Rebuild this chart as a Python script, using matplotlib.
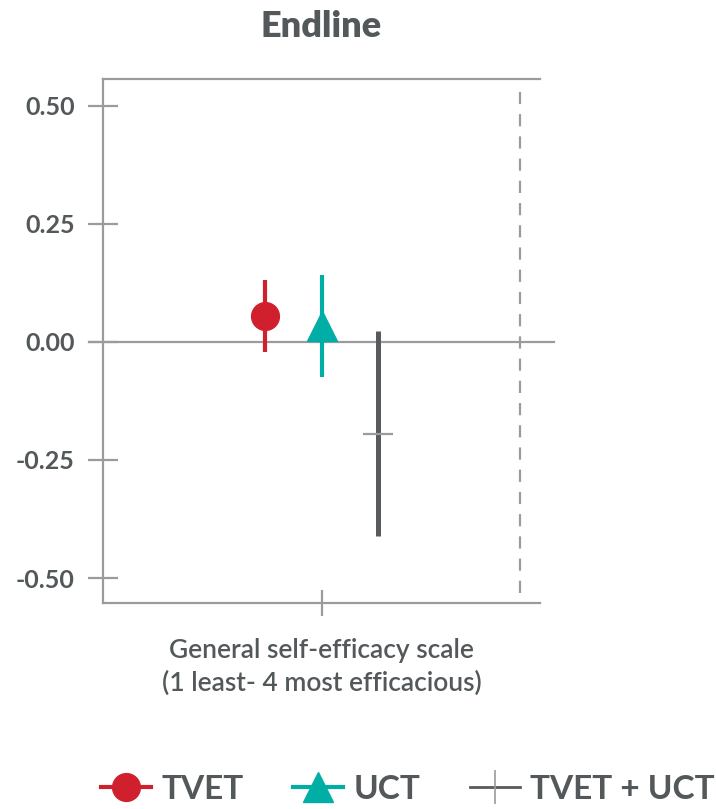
import matplotlib
matplotlib.use("Agg")
import matplotlib.pyplot as plt
from matplotlib.lines import Line2D

plt.rcParams['font.family'] = ['Lato', 'DejaVu Sans']

# point estimates and 95% intervals, endline
groups = ["TVET", "UCT", "TVET + UCT"]
estimates = [0.055, 0.034, -0.194]
ci_half = [0.076, 0.108, 0.217]
offsets = [-0.2, 0.0, 0.2]
outcome = "General self-efficacy scale\n(1 least- 4 most efficacious)"
yticks = [-0.50, -0.25, 0.00, 0.25, 0.50]

red = "#d0202e"
teal = "#00aea5"
dark = "#575b5e"
axis_grey = "#9b9b9b"
text_grey = "#53585b"

fig = plt.figure(figsize=(7.16, 8.09), dpi=100)
ax = fig.add_axes([0.1439, 0.2546, 0.6103, 0.6477])

ax.set_ylim(-0.553, 0.557)
ax.set_xlim(-0.78, 0.78)

# zero reference line runs a little past the frame
ax.plot([-0.83, 0.83], [0, 0], color=axis_grey, lw=1.6, clip_on=False, zorder=1)
ax.axvline(0.71, ymin=0.02, ymax=0.98, color=axis_grey, lw=1.6,
           dashes=(5.5, 4.5), zorder=1)

# TVET
ax.errorbar(offsets[0], estimates[0], yerr=ci_half[0], fmt='o', color=red,
            ms=20, elinewidth=3, capsize=0, zorder=3)
# UCT
ax.errorbar(offsets[1], estimates[1], yerr=ci_half[1], fmt='^', color=teal,
            ms=22, elinewidth=3, capsize=0, zorder=3)
# TVET + UCT
ax.errorbar(offsets[2], estimates[2], yerr=ci_half[2], fmt='none', ecolor=dark,
            elinewidth=3.6, capsize=0, zorder=3)
ax.plot(offsets[2], estimates[2], marker='_', ms=22, mew=1.6, color=axis_grey,
        zorder=4)

for side in ['left', 'top', 'bottom']:
    ax.spines[side].set_color(axis_grey)
    ax.spines[side].set_linewidth(1.6)
ax.spines['right'].set_visible(False)

ax.set_yticks(yticks)
ax.set_yticklabels([f"{v:.2f}" for v in yticks], fontsize=18, fontweight='bold',
                   color=text_grey)
ax.tick_params(axis='y', direction='inout', length=21, width=1.6,
               color=axis_grey, pad=10)
ax.set_xticks([0])
ax.set_xticklabels([""])
ax.tick_params(axis='x', direction='inout', length=19, width=1.6,
               color=axis_grey)
ax.set_xlabel(outcome, fontsize=19, color=text_grey, labelpad=12,
              linespacing=1.4, fontweight='semibold')

ax.set_title("Endline", fontsize=26, fontweight='heavy', color=text_grey, pad=30)

handles = [
    Line2D([], [], color=red, lw=3, marker='o', ms=20),
    Line2D([], [], color=teal, lw=3, marker='^', ms=22),
    Line2D([], [], color=dark, lw=2, marker='|', ms=24, mew=1.2,
           markeredgecolor=axis_grey),
]
fig.legend(handles, groups, loc='center', bbox_to_anchor=(0.57, 0.024),
           ncol=3, frameon=False, handlelength=1.5, handletextpad=0.3,
           columnspacing=1.5, prop={'size': 24, 'weight': 'bold'},
           labelcolor=text_grey)

fig.savefig("out.png", dpi=100)
